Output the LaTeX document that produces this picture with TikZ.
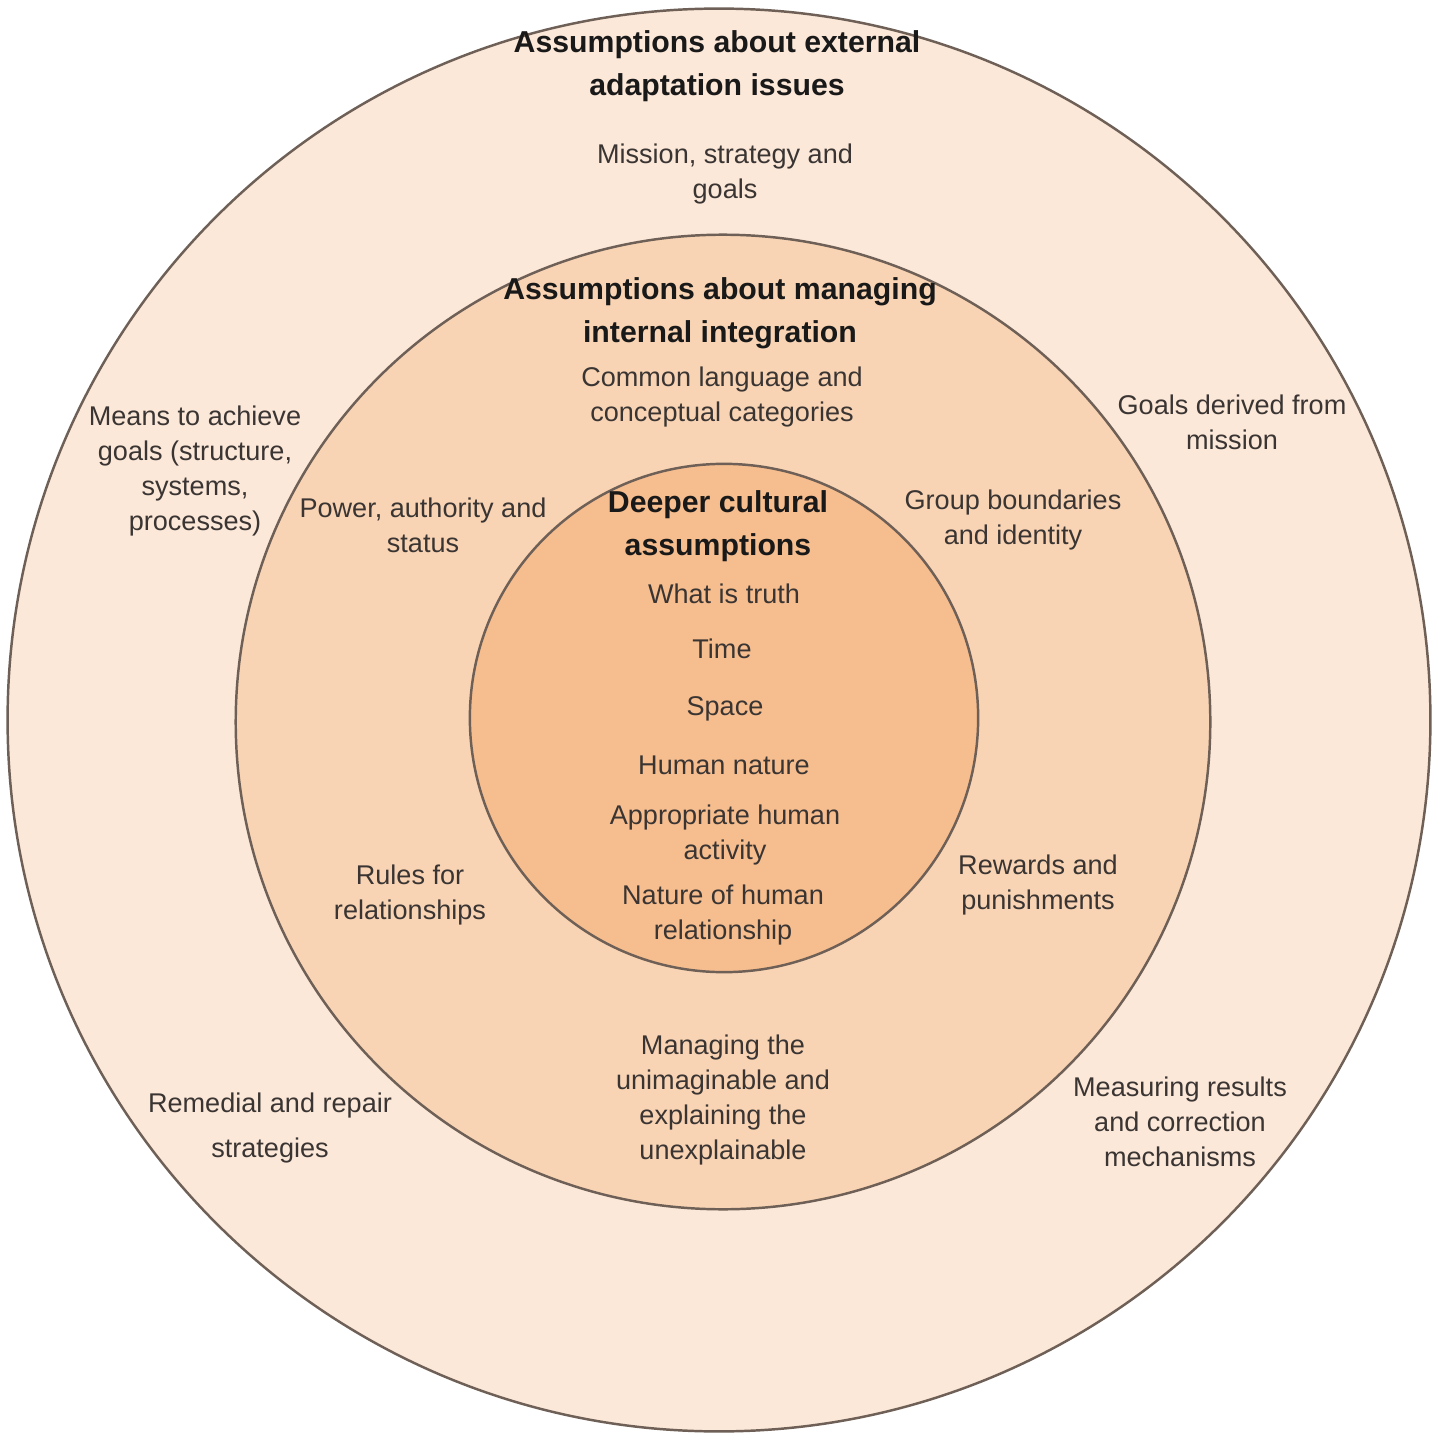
\documentclass[tikz,border=0pt]{standalone}
\usepackage{fontspec}
\setmainfont{Liberation Sans}
\usepackage{tikz}

\definecolor{ringout}{HTML}{FCE8D9}
\definecolor{ringmid}{HTML}{F9D4B4}
\definecolor{ringin}{HTML}{F6BD8E}
\definecolor{ringline}{HTML}{6E6056}
\definecolor{txt}{HTML}{3A3533}

\begin{document}
\begin{tikzpicture}[x=0.01cm,y=-0.01cm,
	ring/.style={draw=ringline,line width=0.7pt},
	label/.style={align=center,text=txt,inner sep=0pt,
		font=\fontsize{7.7}{10}\selectfont},
	head/.style={align=center,text=black!90,inner sep=0pt,
		font=\fontsize{8.6}{12.2}\selectfont\bfseries}]
	\useasboundingbox (0,0) rectangle (1435,1440);
	% rings
	\draw[ring,fill=ringout] (719,720) circle (7.11cm);
	\draw[ring,fill=ringmid] (723,722) circle (4.87cm);
	\draw[ring,fill=ringin] (724,718) circle (2.54cm);
	% outer ring
	\node[head] (outer) at (717,66) {Assumptions about external\\adaptation issues};
	\node[label] (mission) at (725,174) {Mission, strategy and\\goals};
	\node[label] (means) at (195,471) {Means to achieve\\goals (structure,\\systems,\\processes)};
	\node[label] (derived) at (1232,422) {Goals derived from\\mission};
	\node[label] (remedial) at (270,1128) {Remedial and repair\\[3pt]strategies};
	\node[label] (measure) at (1180,1122) {Measuring results\\and correction\\mechanisms};
	% middle ring
	\node[head] (middle) at (720,313) {Assumptions about managing\\internal integration};
	\node[label] (language) at (722,397) {Common language and\\conceptual categories};
	\node[label] (power) at (423,525) {Power, authority and\\status};
	\node[label] (group) at (1013,520) {Group boundaries\\and identity};
	\node[label] (rules) at (410,895) {Rules for\\relationships};
	\node[label] (rewards) at (1038,885) {Rewards and\\punishments};
	\node[label] (unimag) at (723,1100) {Managing the\\unimaginable and\\explaining the\\unexplainable};
	% inner circle
	\node[head] (deeper) at (718,526) {Deeper cultural\\assumptions};
	\node[label] (truth) at (724,594) {What is truth};
	\node[label] (time) at (722,649) {Time};
	\node[label] (space) at (725,709) {Space};
	\node[label] (nature) at (724,765) {Human nature};
	\node[label] (activity) at (725,835) {Appropriate human\\activity};
	\node[label] (relation) at (723,915) {Nature of human\\relationship};
\end{tikzpicture}
\end{document}
